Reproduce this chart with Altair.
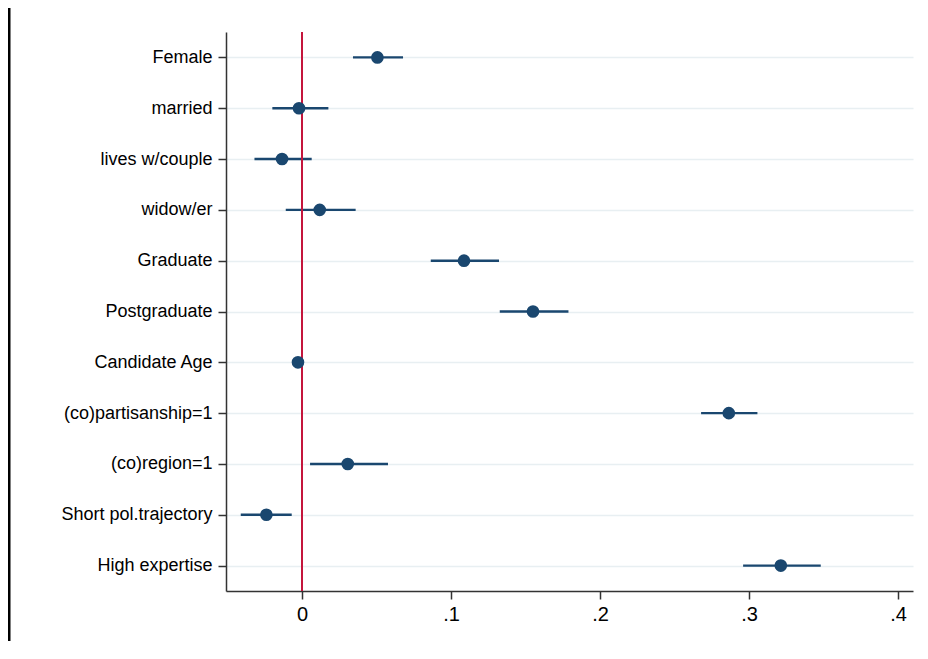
import altair as alt
import pandas as pd

variables = ["Female", "married", "lives w/couple", "widow/er", "Graduate",
             "Postgraduate", "Candidate Age", "(co)partisanship=1",
             "(co)region=1", "Short pol.trajectory", "High expertise"]
estimates = [0.0506, -0.0020, -0.0134, 0.0119, 0.1087, 0.1550, -0.0027,
             0.2864, 0.0307, -0.0239, 0.3213]
ci_low = [0.0342, -0.0199, -0.0319, -0.0109, 0.0864, 0.1327, -0.0035,
          0.2678, 0.0054, -0.0411, 0.2960]
ci_high = [0.0678, 0.0177, 0.0065, 0.0360, 0.1322, 0.1788, -0.0019,
           0.3056, 0.0577, -0.0069, 0.3481]
tick_values = [0, 0.1, 0.2, 0.3, 0.4]
tick_labels = ["0", ".1", ".2", ".3", ".4"]
ref_line = [0]

df = pd.DataFrame({"var": variables, "est": estimates, "lo": ci_low, "hi": ci_high})
ref = pd.DataFrame({"x": ref_line})

W, H = 687, 559
PAD_L, PAD_T, PAD_B = 218, 24, 50
NAVY = "#1a476f"

label_expr = " : ".join(
    [f"datum.value == {v} ? '{l}'" for v, l in zip(tick_values, tick_labels)]
) + " : ''"

xscale = alt.Scale(domain=[-0.051, 0.41], nice=False, zero=False)
yscale = alt.Scale(type="point", padding=0.5, domain=variables)

xaxis = alt.Axis(values=tick_values, labelExpr=label_expr, grid=False,
                 title=None, tickSize=8, tickWidth=1.5, tickColor="#333333",
                 domainColor="#333333", domainWidth=1.5, labelFontSize=20,
                 labelColor="#000000", labelPadding=5, labelFont="Liberation Sans")
yaxis = alt.Axis(title=None, grid=True, gridColor="#e8eff2", gridWidth=1.6,
                 tickSize=8, tickWidth=1.5, tickColor="#333333",
                 domainColor="#333333", domainWidth=1.5, labelFontSize=18,
                 labelColor="#000000", labelPadding=6, labelFont="Liberation Sans")

ci = alt.Chart(df).mark_rule(color=NAVY, strokeWidth=2.4).encode(
    x=alt.X("lo:Q", scale=xscale, axis=xaxis),
    x2="hi:Q",
    y=alt.Y("var:N", scale=yscale, axis=yaxis, sort=variables),
)

zero = alt.Chart(ref).mark_rule(color="#c4153c", strokeWidth=2).encode(
    x=alt.X("x:Q", scale=xscale),
)

dots = alt.Chart(df).mark_circle(color=NAVY, opacity=1, size=160).encode(
    x=alt.X("est:Q", scale=xscale),
    y=alt.Y("var:N", scale=yscale, sort=variables),
)

frame_left = alt.Chart(ref).mark_rule(color="#000000", strokeWidth=3).encode(
    x=alt.value(-PAD_L + 1), y=alt.value(-PAD_T), y2=alt.value(H + PAD_B),
)

chart = alt.layer(ci, zero, dots, frame_left).properties(
    width=W, height=H,
    autosize=alt.AutoSizeParams(type="none"),
    padding={"left": PAD_L, "top": PAD_T, "right": 7, "bottom": PAD_B},
    background="#ffffff",
).configure_view(stroke=None)

chart.save("out.html", embed_options={"renderer": "svg", "actions": False})
